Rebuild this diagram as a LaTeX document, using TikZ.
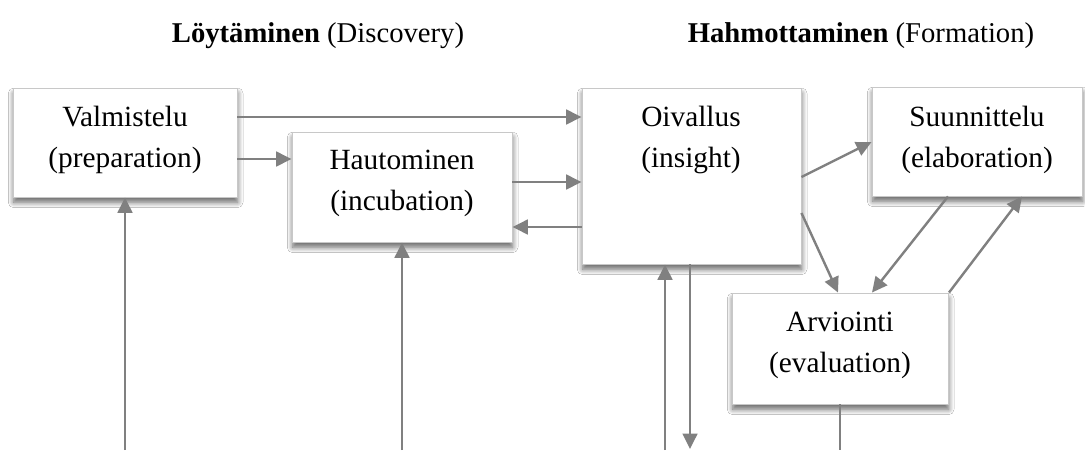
\documentclass[tikz,border=0pt]{standalone}
\usepackage{fontspec}
\setmainfont{Liberation Serif}
\usetikzlibrary{arrows.meta,fit,shadows.blur}

\definecolor{linkgray}{RGB}{128,128,128}
\definecolor{framegray}{RGB}{200,200,200}

\tikzset{
  stagebox/.style={draw=framegray, line width=0.7pt, fill=white, inner sep=0pt,
    blur shadow={shadow xshift=0.5pt, shadow yshift=-4pt, shadow opacity=60,
      shadow blur radius=4pt, shadow blur steps=8}},
  stagetext/.style={anchor=north, inner sep=0pt, align=center,
    font=\fontsize{22}{30.75}\selectfont},
  heading/.style={anchor=base, inner sep=0pt, font=\fontsize{21.5}{26}\selectfont},
  link/.style={draw=linkgray, line width=1.8pt, -{Triangle[length=11.5pt,width=11pt]}},
  plainlink/.style={draw=linkgray, line width=1.8pt}
}

\begin{document}
\begin{tikzpicture}[x=0.75pt, y=-0.75pt]
  % canvas
  \fill[white] (0,0) rectangle (1085,450);
  \useasboundingbox (0,0) rectangle (1085,450);

  % phase headings
  \node[heading] (hdisc) at (318,42) {\textbf{Löytäminen} (Discovery)};
  \node[heading] (hform) at (861,42) {\textbf{Hahmottaminen} (Formation)};

  % stage boxes
  \node[stagebox, fit={(13,88) (237,197)}] (v) {};
  \node[stagebox, fit={(292,132) (512,242)}] (h) {};
  \node[stagebox, fit={(582,88) (801,264)}] (o) {};
  \node[stagebox, fit={(872,87) (1082,196)}] (s) {};
  \node[stagebox, fit={(732,293) (948,404)}] (a) {};

  % stage labels
  \node[stagetext] (vt) at (125,106) {Valmistelu\\(preparation)};
  \node[stagetext] (ht) at (402,150) {Hautominen\\(incubation)};
  \node[stagetext] (ot) at (691,106) {Oivallus\\(insight)};
  \node[stagetext] (st) at (977,106) {Suunnittelu\\(elaboration)};
  \node[stagetext] (at) at (840,312) {Arviointi\\(evaluation)};

  % free ends along the lower edge
  \coordinate (b1) at (125,450);
  \coordinate (b2) at (402,450);
  \coordinate (b3) at (665,450);
  \coordinate (b4) at (690,449);
  \coordinate (b5) at (840,450);

  % connectors between stages
  \draw[link] (v.east |- 0,117) -- (o.west |- 0,117);
  \draw[link] (v.east |- 0,159) -- (h.west |- 0,159);
  \draw[link] (h.east |- 0,182) -- (o.west |- 0,182);
  \draw[link] (o.west |- 0,227) -- (h.east |- 0,227);
  \draw[link] (o.east |- 0,177) -- (s.west |- 0,142);
  \draw[link] (o.east |- 0,213) -- (a.north -| 838,0);
  \draw[link] (s.south -| 948,0) -- (a.north -| 872,0);
  \draw[link] (a.north -| 949,0) -- (s.south -| 1022,0);

  % connectors to and from the lower edge
  \draw[link] (b1) -- (v.south -| b1);
  \draw[link] (b2) -- (h.south -| b2);
  \draw[link] (b3) -- (o.south -| b3);
  \draw[link] (o.south -| b4) -- (b4);
  \draw[plainlink] (a.south -| b5) -- (b5);
\end{tikzpicture}
\end{document}
